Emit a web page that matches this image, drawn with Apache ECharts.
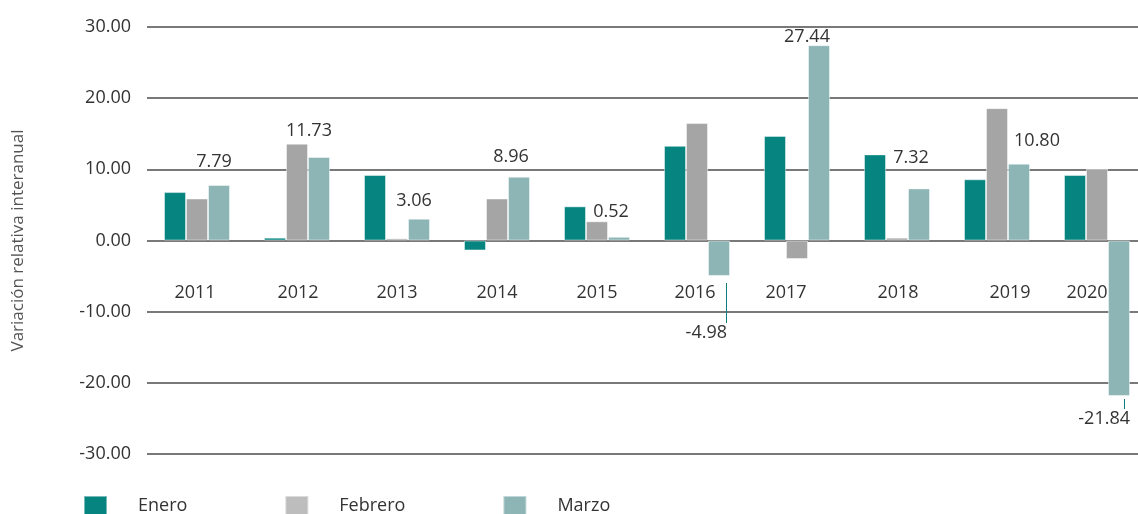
<!DOCTYPE html>
<html>
<head>
<meta charset="utf-8">
<script src="https://cdn.jsdelivr.net/npm/echarts@6/dist/echarts.min.js"></script>
<style>
  html, body { margin: 0; padding: 0; background: #fff; overflow: hidden; }
  /* 画布比窗口略宽，最后一组柱子贴着右边缘 */
  #main { width: 1147px; height: 514px; }
</style>
</head>
<body>
<div id="main"></div>
<script>
// 数据
var years = ['2011', '2012', '2013', '2014', '2015', '2016', '2017', '2018', '2019', '2020'];
var enero = [6.8, 0.4, 9.2, -1.4, 4.8, 13.3, 14.7, 12.1, 8.6, 9.2];
var febrero = [5.9, 13.6, 0.3, 5.9, 2.7, 16.5, -2.6, 0.4, 18.6, 10.1];
var marzo = [7.79, 11.73, 3.06, 8.96, 0.52, -4.98, 27.44, 7.32, 10.80, -21.84];
var yTicks = [-30, -20, -10, 0, 10, 20, 30];

// 标签微调（样式，不是数据）
var labelShift = [[-5, -13], [-10, -16], [-5, -8], [-8, -10], [-8, -15], [8, 7], [-12, 2], [-8, -21], [18, -13], [11, 3]];
var tickLen = [0, 0, 0, 0, 0, 40, 0, 0, 0, 10];
var yearShift = [-2, 1, 0, 0, 0, -2, -11, 1, 13, -10];

var txt = '#333333';
var font = 'Open Sans';
var fs = 18;

var myChart = echarts.init(document.getElementById('main'));

var yearRich = {};
yearShift.forEach(function (d, i) {
    yearRich['s' + i] = {
        fontSize: fs,
        color: txt,
        fontFamily: font,
        padding: d < 0 ? [0, -2 * d, 0, 0] : [0, 0, 0, 2 * d]
    };
});

var marzoData = marzo.map(function (v, i) {
    var neg = v < 0;
    var str = v.toFixed(2);
    return {
        value: v,
        label: {
            show: true,
            position: neg ? 'bottom' : 'top',
            distance: 0,
            align: neg ? 'right' : 'center',
            offset: labelShift[i],
            formatter: neg
                ? '{t| }' + (i === 9 ? '{sp| }' : '') + '\n{v|' + str + '}'
                : '{v|' + str + '}',
            rich: {
                t: { width: 1, height: tickLen[i], backgroundColor: '#0a7f7c', fontSize: 1, lineHeight: tickLen[i] },
                sp: { width: 5, fontSize: 1 },
                v: { fontSize: fs, color: txt, fontFamily: font, lineHeight: 20 }
            }
        }
    };
});

var option = {
    backgroundColor: '#ffffff',
    textStyle: { fontFamily: font },
    legend: {
        left: 83,
        top: 495,
        padding: 0,
        itemWidth: 23,
        itemHeight: 20,
        itemGap: 97,
        icon: 'rect',
        textStyle: { fontSize: fs, color: txt, fontFamily: font, padding: [0, 0, 0, 26] },
        data: [
            { name: 'Enero', itemStyle: { color: '#068480' } },
            { name: 'Febrero', itemStyle: { color: '#bdbdbd' } },
            { name: 'Marzo', itemStyle: { color: '#8db5b6' } }
        ]
    },
    grid: {
        left: 147,
        top: 27,
        width: 1000,
        height: 427
    },
    xAxis: {
        type: 'category',
        data: years,
        axisLine: { show: false, onZero: false },
        axisTick: { show: false },
        axisLabel: {
            // 年份标签放在 0 线下方
            margin: -170,
            formatter: function (val, idx) {
                return '{s' + idx + '|' + val + '}';
            },
            rich: yearRich
        }
    },
    yAxis: {
        type: 'value',
        min: yTicks[0],
        max: yTicks[yTicks.length - 1],
        interval: 10,
        name: 'Variación relativa interanual',
        nameLocation: 'middle',
        nameRotate: 90,
        nameGap: 120,
        nameTextStyle: { fontSize: 17, color: '#555', fontFamily: font },
        axisLine: { show: false },
        axisTick: { show: false },
        axisLabel: {
            margin: 16,
            fontSize: fs,
            color: txt,
            fontFamily: font,
            formatter: function (v) { return v.toFixed(2); }
        },
        splitLine: { lineStyle: { color: '#4d4d4d', width: 1.5 } }
    },
    series: [
        {
            name: 'Enero',
            type: 'bar',
            barWidth: 22,
            barGap: '0%',
            itemStyle: { color: '#068480', borderColor: 'rgba(255,255,255,0.45)', borderWidth: 1 },
            data: enero
        },
        {
            name: 'Febrero',
            type: 'bar',
            barWidth: 22,
            barGap: '0%',
            itemStyle: { color: '#a5a5a5', borderColor: 'rgba(255,255,255,0.45)', borderWidth: 1 },
            data: febrero
        },
        {
            name: 'Marzo',
            type: 'bar',
            barWidth: 22,
            barGap: '0%',
            itemStyle: { color: '#8db5b6', borderColor: 'rgba(255,255,255,0.45)', borderWidth: 1 },
            data: marzoData
        }
    ]
};

myChart.setOption(option);
window.onresize = myChart.resize;
</script>
</body>
</html>
